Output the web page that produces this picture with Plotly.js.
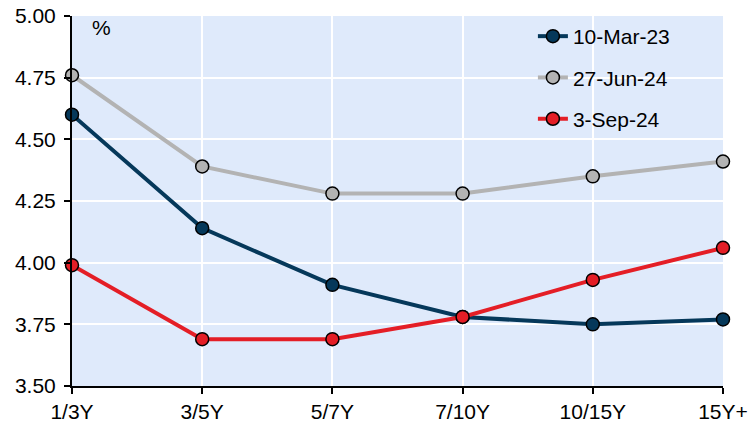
<!DOCTYPE html>
<html>
<head>
<meta charset="utf-8">
<script src="https://cdn.plot.ly/plotly-3.0.1.min.js"></script>
<style>
  html, body { margin: 0; padding: 0; background: #ffffff; }
  #chart { width: 749px; height: 424px; }
</style>
</head>
<body>
<div id="chart"></div>
<script>
// Yield curve snapshots by maturity bucket (%)
const buckets = ["1/3Y", "3/5Y", "5/7Y", "7/10Y", "10/15Y", "15Y+"];
const seriesNames = ["10-Mar-23", "27-Jun-24", "3-Sep-24"];
const mar23 = [4.60, 4.14, 3.91, 3.78, 3.75, 3.77];
const jun24 = [4.76, 4.39, 4.28, 4.28, 4.35, 4.41];
const sep24 = [3.99, 3.69, 3.69, 3.78, 3.93, 4.06];
const yTicks = [3.50, 3.75, 4.00, 4.25, 4.50, 4.75, 5.00];

const colors = ["#05385a", "#b3b3b3", "#e41e26"];
const values = [mar23, jun24, sep24];

const traces = values.map((v, i) => ({
  type: "scatter",
  mode: "lines+markers",
  name: seriesNames[i],
  legendgroup: "g" + i,
  x: buckets,
  y: v,
  line: { color: colors[i], width: 4 },
  marker: { color: colors[i], size: 13, line: { color: "#000000", width: 1.5 } },
  cliponaxis: false
}));

const axisStyle = {
  showgrid: true,
  gridcolor: "#ffffff",
  gridwidth: 2,
  showline: true,
  linecolor: "#000000",
  linewidth: 2,
  ticks: "outside",
  ticklen: 6,
  tickwidth: 2,
  tickcolor: "#000000",
  zeroline: false,
  tickfont: { size: 21 },
  fixedrange: true
};

const layout = {
  width: 749,
  height: 424,
  margin: { l: 72, r: 26, t: 16, b: 38 },
  paper_bgcolor: "#ffffff",
  plot_bgcolor: "#dfeafb",
  font: { family: "Liberation Sans, Arial, sans-serif", size: 21, color: "#000000" },
  showlegend: true,
  legend: {
    x: 0.708, y: 1.0, xanchor: "left", yanchor: "top",
    bgcolor: "rgba(0,0,0,0)",
    font: { size: 21 },
    tracegroupgap: 11
  },
  xaxis: Object.assign({ type: "category", range: [0, 5] }, axisStyle),
  yaxis: Object.assign({
    range: [3.5, 5.0],
    tickvals: yTicks,
    ticktext: yTicks.map(t => t.toFixed(2)),
    ticklabelstandoff: 4
  }, axisStyle),
  annotations: [{
    text: "%",
    xref: "paper", yref: "paper",
    x: 0.046, y: 0.97,
    xanchor: "center", yanchor: "middle",
    showarrow: false,
    font: { size: 21 }
  }]
};

Plotly.newPlot("chart", traces, layout, { displayModeBar: false, staticPlot: true });
</script>
</body>
</html>
